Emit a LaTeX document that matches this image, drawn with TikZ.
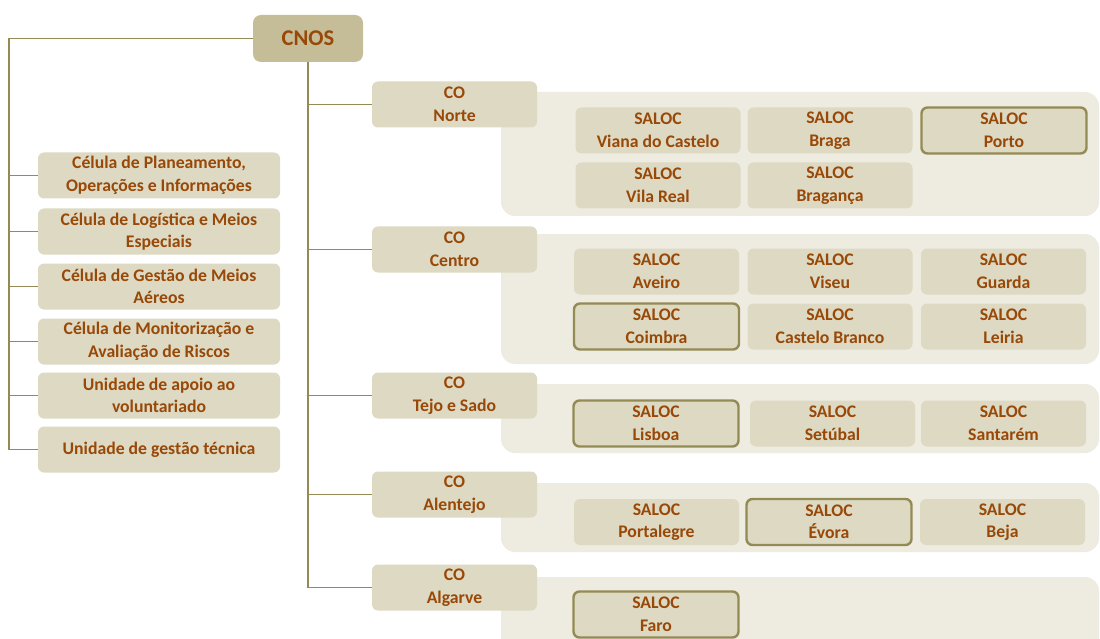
\documentclass[tikz,border=0pt]{standalone}
\usepackage{fontspec}
\setmainfont{Carlito}
\usetikzlibrary{positioning,backgrounds}
\definecolor{boxfill}{HTML}{DDD9C3}
\definecolor{panelfill}{HTML}{EEECE1}
\definecolor{cnosfill}{HTML}{C4BD97}
\definecolor{txt}{HTML}{984807}
\definecolor{ln}{HTML}{948A54}
\begin{document}
\begin{tikzpicture}[x=1pt,y=-1pt,every node/.style={font=\fontsize{17.7}{22.5}\selectfont\bfseries,text=txt,align=center,inner sep=1pt},
 b/.style={fill=boxfill,rounded corners=6pt,minimum width=165pt,minimum height=46pt},
 cel/.style={b,minimum width=242pt},
 hl/.style={draw=ln,line width=2.4pt},
 panel/.style={fill=panelfill,rounded corners=14pt,minimum width=598pt},
 con/.style={draw=ln,line width=1.5pt}]
\clip (0,0) rectangle (1100,639);
\fill[white] (0,0) rectangle (1100,639);
% panels
\node[panel,minimum height=124pt] (pN) at (800,154) {};
\node[panel,minimum height=130pt] (pC) at (800,299) {};
\node[panel,minimum height=69pt] (pT) at (800,418.5) {};
\node[panel,minimum height=69pt] (pA) at (800,517.5) {};
\node[panel,minimum height=83pt] (pG) at (800,618.5) {};
% top
\node[b,fill=cnosfill,minimum width=110pt,minimum height=47pt,rounded corners=8pt,font=\fontsize{22.5}{26}\selectfont\bfseries] (cnos) at (308,38.5) {CNOS};
% cells
\node[cel] (c1) at (159,175.5) {Célula de Planeamento,\\Operações e Informações};
\node[cel] (c2) at (159,231.5) {Célula de Logística e Meios\\Especiais};
\node[cel] (c3) at (159,286.5) {Célula de Gestão de Meios\\Aéreos};
\node[cel] (c4) at (159,341.5) {Célula de Monitorização e\\Avaliação de Riscos};
\node[cel] (c5) at (159,395.5) {Unidade de apoio ao\\voluntariado};
\node[cel] (c6) at (159,449.5) {Unidade de gestão técnica};
% CO
\node[b] (coN) at (454.5,104.5) {CO\\Norte};
\node[b] (coC) at (454.5,249.5) {CO\\Centro};
\node[b] (coT) at (454.5,395.5) {CO\\Tejo e Sado};
\node[b] (coA) at (454.5,494.5) {CO\\Alentejo};
\node[b] (coG) at (454.5,587.5) {CO\\Algarve};
% SALOC
\node[b] (viana) at (658,130.5) {SALOC\\Viana do Castelo};
\node[b] (braga) at (830,130.5) {SALOC\\Braga};
\node[b,hl] (porto) at (1004,130.5) {SALOC\\Porto};
\node[b] (vreal) at (658,185.5) {SALOC\\Vila Real};
\node[b] (bragan) at (830,185.5) {SALOC\\Bragança};
\node[b] (aveiro) at (656.5,271.5) {SALOC\\Aveiro};
\node[b] (viseu) at (830,271.5) {SALOC\\Viseu};
\node[b] (guarda) at (1003.5,271.5) {SALOC\\Guarda};
\node[b,hl] (coimbra) at (656.5,326.5) {SALOC\\Coimbra};
\node[b] (cbranco) at (830,326.5) {SALOC\\Castelo Branco};
\node[b] (leiria) at (1003.5,326.5) {SALOC\\Leiria};
\node[b,hl] (lisboa) at (656,423.5) {SALOC\\Lisboa};
\node[b] (setubal) at (832.5,423.5) {SALOC\\Setúbal};
\node[b] (santarem) at (1003.5,423.5) {SALOC\\Santarém};
\node[b] (portal) at (656.5,522) {SALOC\\Portalegre};
\node[b,hl] (evora) at (829,522) {SALOC\\Évora};
\node[b] (beja) at (1002.5,522) {SALOC\\Beja};
\node[b,hl] (faro) at (656,614.5) {SALOC\\Faro};
% connectors
\coordinate (lsp) at (9,38.5);
\draw[con] (cnos.west)--(lsp)|-(c6.west);
\draw[con] (lsp|-c1.west)--(c1.west);
\draw[con] (lsp|-c2.west)--(c2.west);
\draw[con] (lsp|-c3.west)--(c3.west);
\draw[con] (lsp|-c4.west)--(c4.west);
\draw[con] (lsp|-c5.west)--(c5.west);
\draw[con] (cnos.south)|-(coG.west);
\draw[con] (cnos.south|-coN.west)--(coN.west);
\draw[con] (cnos.south|-coC.west)--(coC.west);
\draw[con] (cnos.south|-coT.west)--(coT.west);
\draw[con] (cnos.south|-coA.west)--(coA.west);
\end{tikzpicture}
\end{document}
